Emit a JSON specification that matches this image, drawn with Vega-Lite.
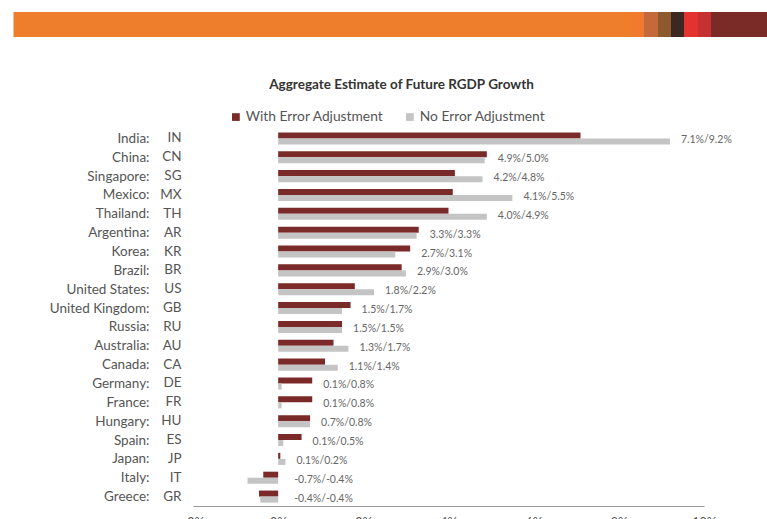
{
  "$schema": "https://vega.github.io/schema/vega-lite/v6.json",
  "background": "white",
  "padding": {"left": 7, "top": 6, "right": 0, "bottom": 0},
  "config": {
    "font": "Lato",
    "view": {"stroke": null},
    "axis": {"labelFont": "Lato", "labelColor": "#555555"}
  },
  "spacing": 35,
  "resolve": {"scale": {"x": "independent", "y": "independent", "color": "independent"}, "legend": {"color": "independent"}},
  "vconcat": [
    {
      "width": 580,
      "height": 25,
      "data": {"values": [
        {"s": "s1", "i": 1, "w": 438},
        {"s": "s2", "i": 2, "w": 13},
        {"s": "s3", "i": 3, "w": 14},
        {"s": "s4", "i": 4, "w": 13},
        {"s": "s5", "i": 5, "w": 13},
        {"s": "s6", "i": 6, "w": 14},
        {"s": "s7", "i": 7, "w": 13},
        {"s": "s8", "i": 8, "w": 62}
      ]},
      "mark": {"type": "bar"},
      "encoding": {
        "x": {"field": "w", "type": "quantitative", "stack": "zero", "axis": null, "scale": {"domain": [0, 580], "nice": false, "zero": true}},
        "y": {"datum": "b", "type": "nominal", "scale": {"paddingInner": 0, "paddingOuter": 0},
              "axis": {"title": null, "labels": false, "domain": false, "ticks": true, "tickSize": 167.5, "tickWidth": 25, "tickCap": "square", "tickColor": "#EE7E2C", "labelPadding": 0, "offset": 0, "minExtent": 0}},
        "order": {"field": "i", "type": "quantitative"},
        "color": {"field": "s", "type": "nominal", "legend": null, "scale": {"domain": ["s1","s2","s3","s4","s5","s6","s7","s8"], "range": ["#EE7E2C","#F07B2E","#C4693A","#8C5A2E","#3B2820","#E3322F","#C5312F","#7A2A27"]}}
      }
    },
    {
      "width": 511,
      "height": 377,
      "title": {"text": "Aggregate Estimate of Future RGDP Growth", "fontSize": 13.5, "fontWeight": "bold", "color": "#333333", "anchor": "middle", "dx": -47, "offset": 19},
      "data": {"values": [
        {"country": "India", "code": "IN", "series": "w", "value": 7.1, "label": "7.1%/9.2%"},
        {"country": "India", "code": "IN", "series": "n", "value": 9.2, "label": "7.1%/9.2%"},
        {"country": "China", "code": "CN", "series": "w", "value": 4.9, "label": "4.9%/5.0%"},
        {"country": "China", "code": "CN", "series": "n", "value": 4.85, "label": "4.9%/5.0%"},
        {"country": "Singapore", "code": "SG", "series": "w", "value": 4.15, "label": "4.2%/4.8%"},
        {"country": "Singapore", "code": "SG", "series": "n", "value": 4.8, "label": "4.2%/4.8%"},
        {"country": "Mexico", "code": "MX", "series": "w", "value": 4.1, "label": "4.1%/5.5%"},
        {"country": "Mexico", "code": "MX", "series": "n", "value": 5.5, "label": "4.1%/5.5%"},
        {"country": "Thailand", "code": "TH", "series": "w", "value": 4.0, "label": "4.0%/4.9%"},
        {"country": "Thailand", "code": "TH", "series": "n", "value": 4.9, "label": "4.0%/4.9%"},
        {"country": "Argentina", "code": "AR", "series": "w", "value": 3.3, "label": "3.3%/3.3%"},
        {"country": "Argentina", "code": "AR", "series": "n", "value": 3.25, "label": "3.3%/3.3%"},
        {"country": "Korea", "code": "KR", "series": "w", "value": 3.1, "label": "2.7%/3.1%"},
        {"country": "Korea", "code": "KR", "series": "n", "value": 2.75, "label": "2.7%/3.1%"},
        {"country": "Brazil", "code": "BR", "series": "w", "value": 2.9, "label": "2.9%/3.0%"},
        {"country": "Brazil", "code": "BR", "series": "n", "value": 3.0, "label": "2.9%/3.0%"},
        {"country": "United States", "code": "US", "series": "w", "value": 1.8, "label": "1.8%/2.2%"},
        {"country": "United States", "code": "US", "series": "n", "value": 2.25, "label": "1.8%/2.2%"},
        {"country": "United Kingdom", "code": "GB", "series": "w", "value": 1.7, "label": "1.5%/1.7%"},
        {"country": "United Kingdom", "code": "GB", "series": "n", "value": 1.5, "label": "1.5%/1.7%"},
        {"country": "Russia", "code": "RU", "series": "w", "value": 1.5, "label": "1.5%/1.5%"},
        {"country": "Russia", "code": "RU", "series": "n", "value": 1.5, "label": "1.5%/1.5%"},
        {"country": "Australia", "code": "AU", "series": "w", "value": 1.3, "label": "1.3%/1.7%"},
        {"country": "Australia", "code": "AU", "series": "n", "value": 1.65, "label": "1.3%/1.7%"},
        {"country": "Canada", "code": "CA", "series": "w", "value": 1.1, "label": "1.1%/1.4%"},
        {"country": "Canada", "code": "CA", "series": "n", "value": 1.4, "label": "1.1%/1.4%"},
        {"country": "Germany", "code": "DE", "series": "w", "value": 0.8, "label": "0.1%/0.8%"},
        {"country": "Germany", "code": "DE", "series": "n", "value": 0.08, "label": "0.1%/0.8%"},
        {"country": "France", "code": "FR", "series": "w", "value": 0.8, "label": "0.1%/0.8%"},
        {"country": "France", "code": "FR", "series": "n", "value": 0.08, "label": "0.1%/0.8%"},
        {"country": "Hungary", "code": "HU", "series": "w", "value": 0.75, "label": "0.7%/0.8%"},
        {"country": "Hungary", "code": "HU", "series": "n", "value": 0.75, "label": "0.7%/0.8%"},
        {"country": "Spain", "code": "ES", "series": "w", "value": 0.55, "label": "0.1%/0.5%"},
        {"country": "Spain", "code": "ES", "series": "n", "value": 0.12, "label": "0.1%/0.5%"},
        {"country": "Japan", "code": "JP", "series": "w", "value": 0.05, "label": "0.1%/0.2%"},
        {"country": "Japan", "code": "JP", "series": "n", "value": 0.17, "label": "0.1%/0.2%"},
        {"country": "Italy", "code": "IT", "series": "w", "value": -0.35, "label": "-0.7%/-0.4%"},
        {"country": "Italy", "code": "IT", "series": "n", "value": -0.72, "label": "-0.7%/-0.4%"},
        {"country": "Greece", "code": "GR", "series": "w", "value": -0.45, "label": "-0.4%/-0.4%"},
        {"country": "Greece", "code": "GR", "series": "n", "value": -0.42, "label": "-0.4%/-0.4%"}
      ]},
      "resolve": {"scale": {"y": "independent"}, "axis": {"y": "independent"}},
      "layer": [
        {
          "encoding": {
            "y": {"field": "code", "type": "nominal", "sort": ["IN","CN","SG","MX","TH","AR","KR","BR","US","GB","RU","AU","CA","DE","FR","HU","ES","JP","IT","GR"],
                  "scale": {"paddingInner": 0.36, "paddingOuter": 0.18},
                  "axis": {"title": null, "orient": "left", "ticks": false, "domain": false, "labelPadding": 12, "labelFontSize": 13.5}}
          },
          "layer": [
            {
              "mark": {"type": "bar"},
              "encoding": {
                "x": {"field": "value", "type": "quantitative", "scale": {"domain": [-2, 10], "nice": false},
                      "axis": {"title": null, "values": [-2,0,2,4,6,8,10], "labelExpr": "datum.value + '%'", "grid": false, "ticks": false, "labelFlush": false, "domainColor": "#9a9a9a", "labelFontSize": 12.5, "labelPadding": 10}},
                "yOffset": {"field": "series", "type": "nominal", "sort": ["w","n"], "scale": {"paddingInner": 0}},
                "color": {"field": "series", "type": "nominal",
                          "scale": {"domain": ["w","n"], "range": ["#7A2A28","#C4C4C4"]},
                          "legend": {"title": null, "orient": "none", "legendX": 36, "legendY": -19, "direction": "horizontal",
                                     "labelExpr": "datum.label == 'w' ? 'With Error Adjustment' : 'No Error Adjustment'",
                                     "symbolType": "square", "symbolSize": 60, "labelFontSize": 13.8, "labelColor": "#555555",
                                     "labelOffset": 3, "columnPadding": 19, "symbolStrokeWidth": 0}}
              }
            },
            {
              "transform": [
                {"aggregate": [{"op": "max", "field": "value", "as": "mx"}], "groupby": ["code", "label"]},
                {"filter": "datum.mx > 0"}
              ],
              "mark": {"type": "text", "align": "left", "baseline": "middle", "dx": 11, "dy": 2, "fontSize": 10.5, "color": "#666666"},
              "encoding": {
                "x": {"field": "mx", "type": "quantitative"},
                "text": {"field": "label", "type": "nominal"}
              }
            },
            {
              "transform": [
                {"aggregate": [{"op": "max", "field": "value", "as": "mx"}], "groupby": ["code", "label"]},
                {"filter": "datum.mx <= 0"}
              ],
              "mark": {"type": "text", "align": "left", "baseline": "middle", "dx": 16, "dy": 2, "fontSize": 10.5, "color": "#666666"},
              "encoding": {
                "x": {"datum": 0, "type": "quantitative"},
                "text": {"field": "label", "type": "nominal"}
              }
            },
            {
              "mark": {"type": "rule", "color": "#9a9a9a", "strokeWidth": 1},
              "encoding": {"x": {"datum": 0, "type": "quantitative"}}
            }
          ]
        },
        {
          "mark": {"type": "text", "opacity": 0},
          "encoding": {
            "y": {"field": "country", "type": "nominal",
                  "sort": ["India","China","Singapore","Mexico","Thailand","Argentina","Korea","Brazil","United States","United Kingdom","Russia","Australia","Canada","Germany","France","Hungary","Spain","Japan","Italy","Greece"],
                  "scale": {"paddingInner": 0.36, "paddingOuter": 0.18},
                  "axis": {"title": null, "orient": "left", "ticks": false, "domain": false, "offset": 30, "labelPadding": 14, "minExtent": 137, "labelFontSize": 13.5, "labelExpr": "datum.label + ':'"}},
            "text": {"value": ""}
          }
        }
      ]
    }
  ]
}
